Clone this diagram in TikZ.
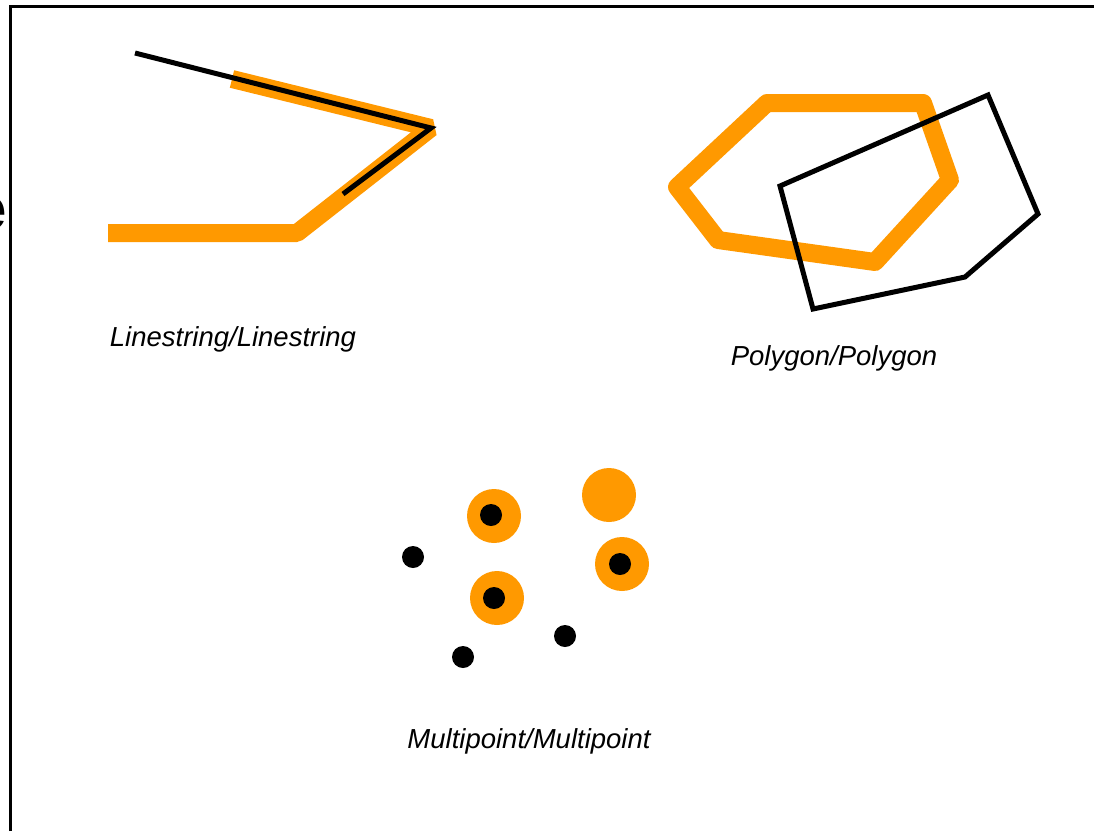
\documentclass[tikz,border=0pt]{standalone}
\usepackage{fontspec}
\newfontfamily\lblfont{Liberation Sans}
\usetikzlibrary{positioning}
\definecolor{geoorange}{RGB}{255,153,0}

\begin{document}
\begin{tikzpicture}[x=1pt,y=-1pt,
  frameline/.style={line width=3pt},
  geomA/.style={draw=geoorange, line width=18pt, line join=bevel},
  geomB/.style={draw=black, line width=5pt, line join=miter},
  caption/.style={font=\lblfont\itshape\fontsize{27.5}{32}\selectfont, inner sep=0pt},
  ptA/.style={circle, fill=geoorange, minimum size=54pt, inner sep=0pt},
  ptB/.style={circle, fill=black, minimum size=22pt, inner sep=0pt}]
  \useasboundingbox (0,0) rectangle (1094,831);
  \fill[white] (0,0) rectangle (1094,831);

  % frame
  \draw[frameline] (10.5,831) -- (10.5,6) -- (1094,6);
  \node[font=\lblfont\bfseries\fontsize{60}{60}\selectfont, anchor=east, inner sep=0pt] (cut) at (7,214) {e};

  % linestrings
  \draw[geomA] (108,233) -- (297,233) -- (431,128) -- (232,79);
  \draw[geomB] (135,53) -- (431,128) -- (343,194);
  \node[caption] (lsLabel) at (233,339) {Linestring/Linestring};

  % polygons
  \draw[geomA, line join=round] (767,103) -- (923,103) -- (950,180) -- (875,262) -- (718,240) -- (677,187) -- cycle;
  \draw[geomB] (780,186) -- (988,95) -- (1038,214) -- (965,277) -- (813,309) -- cycle;
  \node[caption] (pgLabel) at (834,358) {Polygon/Polygon};

  % multipoints
  \node[ptA] (o1) at (494,516) {};
  \node[ptA] (o2) at (609,495) {};
  \node[ptA] (o3) at (622,564) {};
  \node[ptA] (o4) at (497,598) {};
  \node[ptB] (d1) at (491,515) {};
  \node[ptB] (d2) at (620,564) {};
  \node[ptB] (d3) at (494,598) {};
  \node[ptB] (d4) at (413,557) {};
  \node[ptB] (d5) at (565,636) {};
  \node[ptB] (d6) at (463,657) {};
  \node[caption] (mpLabel) at (529,741) {Multipoint/Multipoint};
\end{tikzpicture}
\end{document}
